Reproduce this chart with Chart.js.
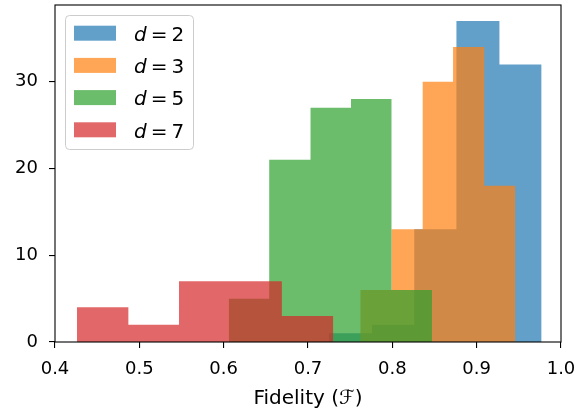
<!DOCTYPE html>
<html lang="en">
<head>
    <meta charset="UTF-8">
    <title>Fidelity histogram</title>
    <script src="https://cdn.jsdelivr.net/npm/chart.js"></script>
    <style>
        html, body { margin: 0; padding: 0; background: #fff; }
        .chart-box { width: 579px; height: 415px; position: relative; }
    </style>
</head>
<body>
    <div class="chart-box"><canvas id="fidelityChart"></canvas></div>
    <script>
        // histogram bins (5 bins per code distance)
        const d2Edges = [0.725, 0.776, 0.826, 0.876, 0.927, 0.977];
        const d2Counts = [1, 2, 13, 37, 32];
        const d3Edges = [0.762, 0.799, 0.836, 0.872, 0.909, 0.946];
        const d3Counts = [6, 13, 30, 34, 18];
        const d5Edges = [0.606, 0.654, 0.703, 0.751, 0.799, 0.847];
        const d5Counts = [5, 21, 27, 28, 6];
        const d7Edges = [0.426, 0.487, 0.547, 0.608, 0.669, 0.730];
        const d7Counts = [4, 2, 7, 7, 3];

        const seriesLabels = ['2', '3', '5', '7'];
        const xTicks = [0.4, 0.5, 0.6, 0.7, 0.8, 0.9, 1.0];
        const yTicks = [0, 10, 20, 30];

        const colors = [
            'rgba(31,119,180,0.7)',
            'rgba(255,127,14,0.7)',
            'rgba(44,160,44,0.7)',
            'rgba(214,39,40,0.7)'
        ];

        // turn bin edges + counts into the outline of a bar histogram
        function outline(edges, counts) {
            const pts = [{ x: edges[0], y: 0 }];
            counts.forEach((c, i) => {
                pts.push({ x: edges[i], y: c });
                pts.push({ x: edges[i + 1], y: c });
            });
            pts.push({ x: edges[edges.length - 1], y: 0 });
            return pts;
        }

        const hists = [
            [d2Edges, d2Counts],
            [d3Edges, d3Counts],
            [d5Edges, d5Counts],
            [d7Edges, d7Counts]
        ];

        // frame + legend drawn like matplotlib
        const framePlugin = {
            id: 'frame',
            afterDraw(chart) {
                const { ctx, chartArea: a } = chart;
                ctx.save();
                ctx.strokeStyle = '#000';
                ctx.lineWidth = 1.1;
                ctx.strokeRect(a.left, a.top, a.right - a.left, a.bottom - a.top);

                // legend box
                ctx.beginPath();
                ctx.roundRect(65.5, 15.5, 128, 134, 4);
                ctx.fillStyle = 'rgba(255,255,255,0.8)';
                ctx.fill();
                ctx.strokeStyle = '#cccccc';
                ctx.lineWidth = 1;
                ctx.stroke();

                const rows = [33.2, 65.4, 97.6, 129.8];
                rows.forEach((cy, i) => {
                    ctx.fillStyle = colors[i];
                    ctx.fillRect(74, cy - 7.5, 42, 15);
                    ctx.fillStyle = '#000';
                    ctx.textBaseline = 'alphabetic';
                    let x = 134;
                    const base = cy + 7.8;
                    ctx.font = 'italic 20px "DejaVu Sans"';
                    ctx.fillText('d', x, base);
                    x += ctx.measureText('d').width + 4;
                    ctx.font = '20px "DejaVu Sans"';
                    ctx.fillText('=', x, base);
                    x += ctx.measureText('=').width + 4;
                    ctx.fillText(seriesLabels[i], x, base);
                });
                ctx.restore();
            }
        };

        const ctx = document.getElementById('fidelityChart').getContext('2d');
        new Chart(ctx, {
            type: 'line',
            data: {
                datasets: hists.map((h, i) => ({
                    label: 'd = ' + seriesLabels[i],
                    data: outline(h[0], h[1]),
                    backgroundColor: colors[i],
                    borderWidth: 0,
                    pointRadius: 0,
                    tension: 0,
                    fill: 'origin',
                    order: 4 - i
                }))
            },
            options: {
                responsive: true,
                maintainAspectRatio: false,
                animation: false,
                layout: { padding: { top: 5, right: 18, left: 0, bottom: 0 } },
                plugins: {
                    legend: { display: false },
                    tooltip: { enabled: false }
                },
                scales: {
                    x: {
                        type: 'linear',
                        min: 0.4,
                        max: 1.0,
                        afterBuildTicks: s => { s.ticks = xTicks.map(v => ({ value: v })); },
                        afterFit: s => {
                            s.height = 73;
                            s.paddingLeft = 0;
                            s.paddingRight = 0;
                        },
                        border: { display: false },
                        grid: { drawOnChartArea: false, drawTicks: true, tickLength: 6, color: '#000', lineWidth: 1.1 },
                        ticks: {
                            color: '#000',
                            padding: 11,
                            maxRotation: 0,
                            font: { family: 'DejaVu Sans', size: 18 },
                            callback: v => v.toFixed(1)
                        },
                        title: {
                            display: true,
                            text: 'Fidelity (ℱ)',
                            color: '#000',
                            font: { family: 'DejaVu Sans', size: 20 },
                            padding: { top: 0, bottom: 4 }
                        }
                    },
                    y: {
                        min: 0,
                        max: 38.85,
                        afterBuildTicks: s => { s.ticks = yTicks.map(v => ({ value: v })); },
                        afterFit: s => {
                            s.width = 55;
                            s.paddingTop = 0;
                            s.paddingBottom = 0;
                        },
                        border: { display: false },
                        grid: { drawOnChartArea: false, drawTicks: true, tickLength: 6, color: '#000', lineWidth: 1.1 },
                        ticks: {
                            color: '#000',
                            padding: 11,
                            font: { family: 'DejaVu Sans', size: 18 }
                        }
                    }
                }
            },
            plugins: [framePlugin]
        });
    </script>
</body>
</html>
